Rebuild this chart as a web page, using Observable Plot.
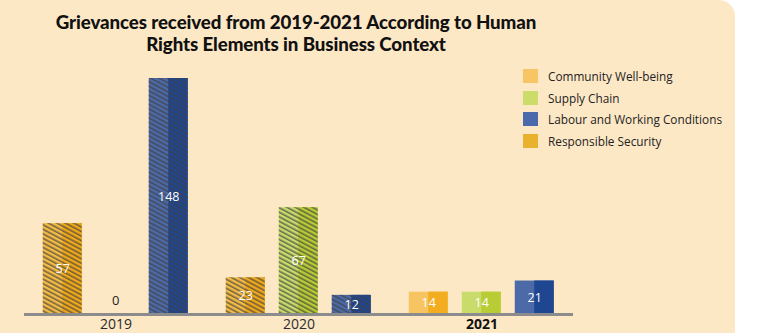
<!DOCTYPE html>
<html>
<head>
<meta charset="utf-8">
<script src="https://cdn.jsdelivr.net/npm/d3@7"></script>
<script src="https://cdn.jsdelivr.net/npm/@observablehq/plot@0.6"></script>
<style>
  html, body { margin: 0; padding: 0; background: #ffffff; }
  #panel { position: relative; width: 735px; height: 333px; background: #fde8c6; border-top-right-radius: 16px; overflow: hidden; font-family: "Open Sans", sans-serif; }
  #title { position: absolute; left: 0; top: 11px; width: 592px; text-align: center; font-family: Lato, sans-serif; font-weight: 900; font-size: 18.7px; line-height: 22px; color: #111; letter-spacing: -0.1px; }
  #chart { position: absolute; left: 0; top: 56px; }
  #legend { position: absolute; left: 523px; top: 65px; font-family: "Open Sans", sans-serif; font-size: 11.8px; color: #222; }
  .item { display: flex; align-items: center; height: 21.8px; }
  .sw { width: 15px; height: 14px; margin-right: 10px; }
</style>
</head>
<body>
<div id="panel">
  <div id="title">Grievances received from 2019-2021 According to Human<br>Rights Elements in Business Context</div>
  <div id="chart"></div>
  <div id="legend"></div>
</div>
<svg width="0" height="0" style="position:absolute">
  <defs>
    <pattern id="hatch" patternUnits="userSpaceOnUse" width="8" height="4" patternTransform="rotate(28)">
      <line x1="0" y1="1.2" x2="8" y2="1.2" stroke="#3f3f3f" stroke-width="1.5" stroke-opacity="0.75"></line>
    </pattern>
  </defs>
</svg>
<script>
// ---- data ----
const years = ["2019", "2020", "2021"];
const categories = ["Community Well-being", "Supply Chain", "Labour and Working Conditions", "Responsible Security"];
const legendColors = ["#f7c564", "#cbdc6a", "#4a6aab", "#e8b22e"];
const lightColors = ["#f6c561", "#c9dc6b", "#4c6aa8", "#f4bb45"];
const darkColors  = ["#f2ad21", "#b8cc35", "#1f4690", "#f0a81b"];
const hatchedYears = ["2019", "2020"];

const barYear     = ["2019", "2019", "2019", "2020", "2020", "2020", "2021", "2021", "2021"];
const barSlot     = [0, 1, 2, 0, 1, 2, 0, 1, 2];
const barCategory = ["Responsible Security", "Supply Chain", "Labour and Working Conditions",
                     "Responsible Security", "Supply Chain", "Labour and Working Conditions",
                     "Community Well-being", "Supply Chain", "Labour and Working Conditions"];
const barValue    = [57, 0, 148, 23, 67, 12, 14, 14, 21];

const bars = barValue.map((v, i) => {
  const c = categories.indexOf(barCategory[i]);
  return { year: barYear[i], slot: barSlot[i], category: barCategory[i], value: v,
           light: lightColors[c], dark: darkColors[c], hatched: hatchedYears.includes(barYear[i]) };
});
const nonZero = bars.filter(d => d.value > 0);

const chart = Plot.plot({
  width: 735,
  height: 277,
  marginTop: 22,
  marginBottom: 19,
  marginLeft: 23.25,
  marginRight: 161.25,
  style: { background: "transparent", overflow: "visible" },
  fx: { domain: years, padding: 0, axis: null },
  x: { domain: [0, 1, 2], paddingInner: 0.271, paddingOuter: 0.35, axis: null },
  y: { domain: [0, 148], axis: null },
  color: { type: "identity" },
  marks: [
    Plot.barY(nonZero, { fx: "year", x: "slot", y: "value", fill: "light" }),
    Plot.barY(nonZero, { fx: "year", x: "slot", y: "value", fill: "dark", insetLeft: 19.5 }),
    Plot.barY(nonZero.filter(d => d.hatched), { fx: "year", x: "slot", y: "value", fill: "url(#hatch)" }),
    Plot.ruleY([0], { stroke: "#8c8c8c", strokeWidth: 3 }),
    Plot.text(nonZero, { fx: "year", x: "slot", y: d => d.value / 2, text: d => String(d.value),
      fill: "white", fontSize: 12.5, fontFamily: "Open Sans" }),
    Plot.text(bars.filter(d => d.value === 0), { fx: "year", x: "slot", y: "value", text: d => String(d.value),
      fill: "#222", fontSize: 13, fontFamily: "Open Sans", dy: -14 }),
    Plot.text(years.filter(y => y !== "2021"), { fx: d => d, text: d => d, frameAnchor: "bottom",
      lineAnchor: "middle", dy: 10.5, fill: "#2b2b2b", fontSize: 14, fontFamily: "Open Sans" }),
    Plot.text(["2021"], { fx: d => d, text: d => d, frameAnchor: "bottom",
      lineAnchor: "middle", dy: 10.5, fill: "#111", fontSize: 14, fontWeight: "bold", fontFamily: "Open Sans" })
  ]
});
document.getElementById("chart").appendChild(chart);

const legend = document.getElementById("legend");
categories.forEach((c, i) => {
  const item = document.createElement("div");
  item.className = "item";
  const sw = document.createElement("div");
  sw.className = "sw";
  sw.style.background = legendColors[i];
  const lab = document.createElement("span");
  lab.textContent = c;
  item.appendChild(sw);
  item.appendChild(lab);
  legend.appendChild(item);
});
</script>
</body>
</html>
